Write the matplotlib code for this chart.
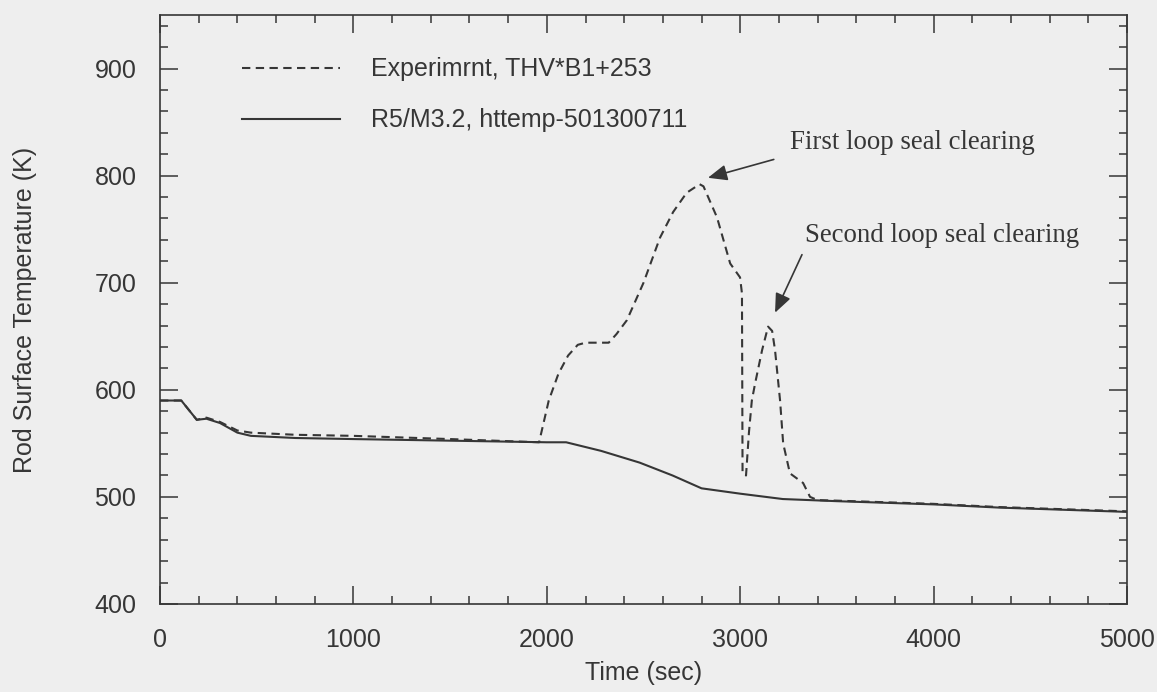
import numpy as np
import matplotlib
matplotlib.use('Agg')
import matplotlib.pyplot as plt
from matplotlib.ticker import MultipleLocator

# R5/M3.2 calculation (solid)
t_calc = [0, 110, 190, 240, 310, 400, 470, 700, 1000, 1500, 2000, 2100, 2280, 2480,
          2650, 2800, 3000, 3220, 3500, 4000, 4340, 5000]
T_calc = [590, 590, 572, 573, 569, 560, 557, 555, 554, 552.5, 551, 551, 543, 532,
          520, 508, 503, 498, 496, 493, 490, 486]

# Experiment (dashed)
t_exp = [0, 110, 190, 240, 310, 400, 470, 700, 1000, 1500, 1960, 2010, 2060, 2110, 2160,
         2200, 2320, 2360, 2414, 2500, 2585, 2653, 2723, 2790, 2810, 2880, 2948, 2999,
         3009, 3012, 3030, 3045, 3060, 3077, 3113, 3144, 3165, 3180, 3206, 3222, 3257,
         3325, 3361, 3400, 3500, 4000, 4340, 5000]
T_exp = [590, 590, 572, 574, 570, 562, 560, 558, 557, 554, 551, 590, 615, 632, 642,
         644, 644, 652, 665, 700, 742, 766, 784, 792, 790, 761, 718, 705,
         690, 522, 520, 560, 590, 606, 637, 659, 655, 637, 590, 550, 522,
         513, 500, 497, 496.5, 493.5, 490.5, 486.5]

ink = '#363636'
bg = '#eeeeee'
plt.rcParams['font.family'] = ['Liberation Sans', 'DejaVu Sans']
plt.rcParams['text.color'] = ink
plt.rcParams['axes.labelcolor'] = ink

fig = plt.figure(figsize=(11.57, 6.92), dpi=100, facecolor=bg)
ax = fig.add_axes([0.1383, 0.1272, 0.8358, 0.8511], facecolor=bg)

ax.plot(t_exp, T_exp, color=ink, lw=1.5, ls=(0, (4, 2.6)), label='Experimrnt, THV*B1+253')
ax.plot(t_calc, T_calc, color=ink, lw=1.5, label='R5/M3.2, httemp-501300711')

ax.set_xlim(0, 5000)
ax.set_ylim(400, 950)
ax.xaxis.set_major_locator(MultipleLocator(1000))
ax.xaxis.set_minor_locator(MultipleLocator(200))
ax.yaxis.set_major_locator(MultipleLocator(100))
ax.yaxis.set_minor_locator(MultipleLocator(20))
ax.set_yticks([400, 500, 600, 700, 800, 900])
ax.tick_params(which='both', direction='in', top=True, right=True, color=ink,
               width=1.1, labelsize=18, labelcolor=ink)
ax.tick_params(which='major', length=13)
ax.tick_params(which='minor', length=6)
ax.tick_params(axis='x', pad=17)
ax.tick_params(axis='y', pad=17)
for s in ax.spines.values():
    s.set_color(ink)
    s.set_linewidth(1.2)

ax.set_xlabel('Time (sec)', fontsize=18)
ax.set_ylabel('Rod Surface Temperature (K)', fontsize=18)
ax.xaxis.set_label_coords(0.5, -0.096)
ax.yaxis.set_label_coords(-0.127, 0.5)

leg = ax.legend(loc='upper left', bbox_to_anchor=(0.0848, 0.928), frameon=False,
                fontsize=18, handlelength=3.9, handletextpad=1.25,
                labelspacing=1.08, borderpad=0, borderaxespad=0)

arrow = dict(arrowstyle='-|>,head_length=0.6,head_width=0.25', color=ink, lw=1.2)
ax.annotate('First loop seal clearing', xy=(2833, 798), xytext=(3257, 831),
            ha='left', va='center', family=['Liberation Serif'], fontsize=19.4,
            arrowprops=dict(**arrow, relpos=(0, 0), shrinkA=10, shrinkB=0))
ax.annotate('Second loop seal clearing', xy=(3180, 672), xytext=(3335, 744),
            ha='left', va='center', family=['Liberation Serif'], fontsize=19.4,
            arrowprops=dict(**arrow, relpos=(0, 0), shrinkA=3, shrinkB=0))

fig.savefig('out.png', dpi=100, facecolor=bg)
